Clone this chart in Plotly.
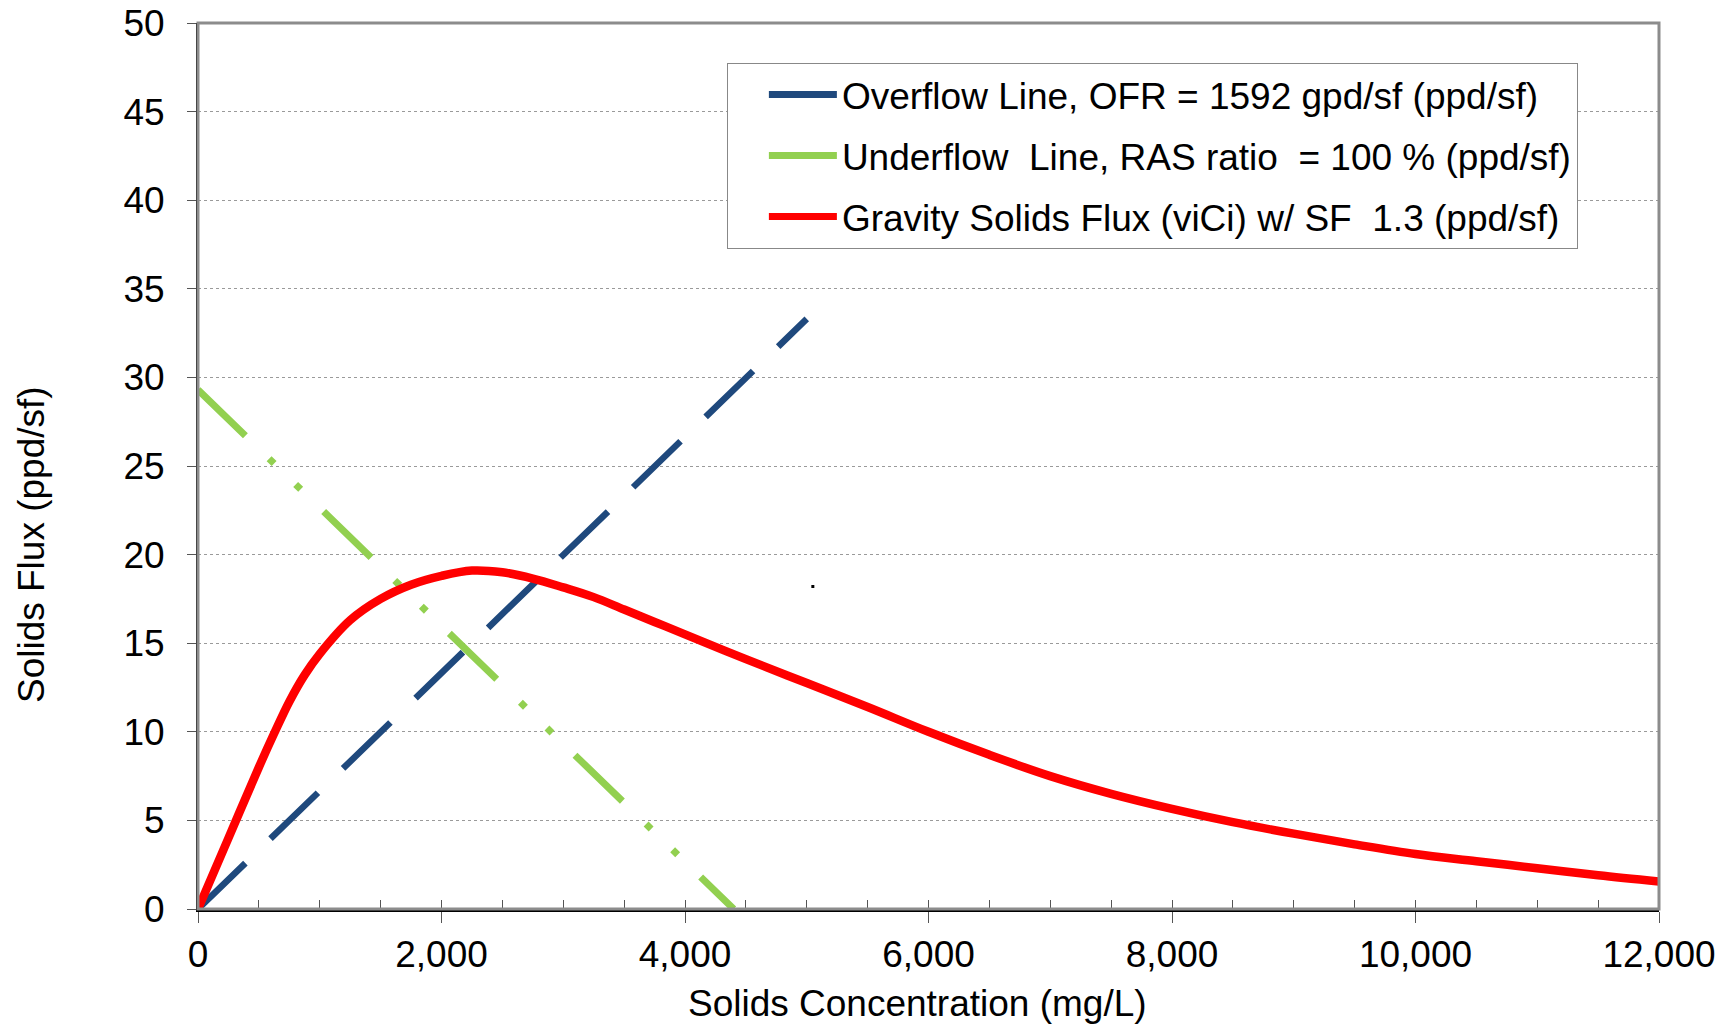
import plotly.graph_objects as go

# ---- data ----
overflow_x = [0, 5000]
overflow_y = [0, 33.3]

underflow_x = [0, 4400]
underflow_y = [29.3, 0]

gravity_x = [0, 250, 500, 625, 750, 875, 1000, 1250, 1500, 1750, 2000, 2250, 2500, 2750,
             3000, 3250, 3500, 3750, 4000, 4500, 5000, 5500, 6000, 6500, 7000,
             7500, 8000, 8500, 9000, 9500, 10000, 10500, 11000, 11500, 12000]
gravity_y = [0, 4.0, 8.0, 9.9, 11.7, 13.2, 14.4, 16.3, 17.5, 18.3, 18.8, 19.1, 19.0, 18.65,
             18.15, 17.6, 16.9, 16.2, 15.5, 14.1, 12.75, 11.4, 10.0, 8.7, 7.5,
             6.5, 5.65, 4.9, 4.25, 3.65, 3.1, 2.7, 2.3, 1.9, 1.55]

stray_x = [5050]
stray_y = [18.2]

names = ["Overflow Line, OFR = 1592 gpd/sf (ppd/sf)",
         "Underflow  Line, RAS ratio  = 100 % (ppd/sf)",
         "Gravity Solids Flux (viCi) w/ SF  1.3 (ppd/sf)"]
colors = ["#1F497D", "#92D050", "#FF0000"]

x_tickvals = [0, 2000, 4000, 6000, 8000, 10000, 12000]
y_tickvals = [0, 5, 10, 15, 20, 25, 30, 35, 40, 45, 50]

x_title = "Solids Concentration (mg/L)"
y_title = "Solids Flux (ppd/sf)"

FONT = "Liberation Sans, Arial, sans-serif"
FS = 37

fig = go.Figure()
fig.add_trace(go.Scatter(x=overflow_x, y=overflow_y, mode="lines", name=names[0],
                         showlegend=False,
                         line=dict(color=colors[0], width=6.5, dash="66px,35px")))
fig.add_trace(go.Scatter(x=underflow_x, y=underflow_y, mode="lines", name=names[1],
                         showlegend=False,
                         line=dict(color=colors[1], width=7,
                                   dash="66px,33px,7px,30px,7px,32px")))
fig.add_trace(go.Scatter(x=gravity_x, y=gravity_y, mode="lines", name=names[2],
                         showlegend=False,
                         line=dict(color=colors[2], width=8.5, shape="spline", smoothing=1.0)))
fig.add_trace(go.Scatter(x=stray_x, y=stray_y, mode="markers", showlegend=False,
                         marker=dict(color="black", size=3, symbol="square")))

# legend entries (solid samples, as in the reference legend)
for i, (nm, col) in enumerate(zip(names, colors)):
    fig.add_trace(go.Scatter(x=[None], y=[None], mode="lines", name=nm,
                             legendgroup=f"g{i}", showlegend=True,
                             line=dict(color=col, width=7)))

fig.update_layout(
    width=1733, height=1027,
    margin=dict(l=198, r=74, t=23, b=118),
    paper_bgcolor="white", plot_bgcolor="white",
    font=dict(family=FONT, size=FS, color="black"),
    showlegend=True,
    legend=dict(x=0.362, y=0.955, xanchor="left", yanchor="top",
                bgcolor="white", bordercolor="#888888", borderwidth=1,
                font=dict(family=FONT, size=FS, color="black"),
                tracegroupgap=10, itemwidth=68, indentation=36),
    shapes=[dict(type="rect", xref="paper", yref="paper", x0=0, y0=0, x1=1, y1=1,
                 line=dict(color="#8c8c8c", width=3), layer="above")],
    annotations=[
        dict(text=y_title, textangle=-90,
             xref="paper", yref="paper", x=-0.1143, y=0.4108,
             xanchor="center", yanchor="middle", showarrow=False,
             font=dict(family=FONT, size=FS, color="black")),
        dict(text=x_title,
             xref="paper", yref="paper", x=0.4923, y=-0.1061,
             xanchor="center", yanchor="middle", showarrow=False,
             font=dict(family=FONT, size=FS, color="black")),
    ],
)

fig.update_xaxes(
    range=[0, 12000], tickvals=x_tickvals, tickformat=",",
    showgrid=False, zeroline=False, automargin=False,
    showline=True, linecolor="black", linewidth=2.5,
    ticks="outside", ticklen=11, tickwidth=1, tickcolor="#555555",
    minor=dict(dtick=500, ticks="inside", ticklen=9, tickcolor="#555555", tickwidth=1, showgrid=False),
    tickfont=dict(family=FONT, size=FS, color="black"),
    ticklabeloverflow="allow",
)
fig.update_yaxes(
    range=[0, 50], tickvals=y_tickvals,
    showgrid=True, gridcolor="#9a9a9a", gridwidth=1, griddash="dot",
    zeroline=False, automargin=False,
    showline=True, linecolor="black", linewidth=2,
    ticks="outside", ticklen=9, tickwidth=1, tickcolor="#555555",
    ticklabelstandoff=15, ticklabeloverflow="allow",
    tickfont=dict(family=FONT, size=FS, color="black"),
)

fig.write_html("out.html", config={"displayModeBar": False},
               post_script="document.body.style.margin='0';")
